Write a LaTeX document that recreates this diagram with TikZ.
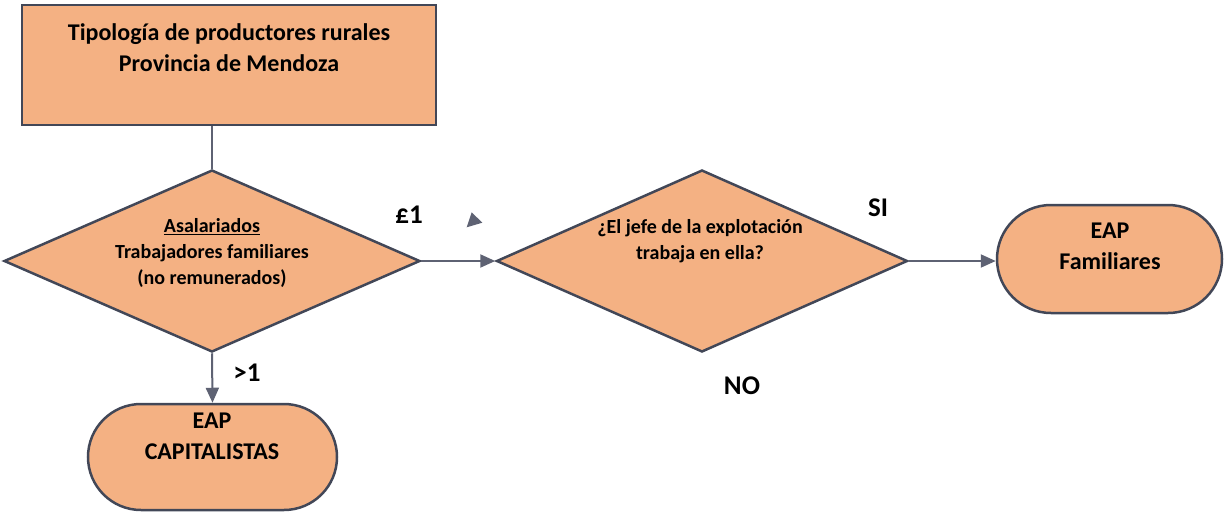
\documentclass[tikz,border=0pt]{standalone}
\usepackage{fontspec}
\setmainfont{Carlito}
\usetikzlibrary{shapes.geometric,shapes.misc,arrows.meta}

\definecolor{boxfill}{RGB}{244,177,131}
\definecolor{boxline}{RGB}{66,71,87}
\definecolor{flowline}{RGB}{94,98,115}

\begin{document}
\begin{tikzpicture}[x=1pt,y=-1pt,
		box/.style={draw=boxline,fill=boxfill,line width=2.5pt,inner sep=0pt},
		titlebox/.style={box,rectangle,minimum width=414pt,minimum height=120pt},
		decision/.style={box,diamond,minimum height=182pt},
		endbox/.style={box,rounded rectangle},
		boxtext/.style={align=center,inner sep=0pt,font=\bfseries\fontsize{24}{31}\selectfont},
		asktext/.style={align=center,inner sep=0pt,font=\bfseries\fontsize{20}{26}\selectfont},
		answer/.style={inner sep=0pt,font=\bfseries\fontsize{27}{30}\selectfont},
		flow/.style={draw=flowline,line width=2pt,-{Triangle[length=15pt,width=13pt]}}]
		
		\useasboundingbox (0,0) rectangle (1224,512);
		
		% Title
		\node[titlebox] (tipologia) at (229,65) {};
		\node[boxtext] (tipologiatext) at (229,48)
			{Tipología de productores rurales\\Provincia de Mendoza};
		
		% First question
		\node[decision,minimum width=416pt] (asalariados) at (212,261) {};
		\node[asktext] (asalariadostext) at (212,253)
			{\underline{Asalariados}\\Trabajadores familiares\\(no remunerados)};
		
		% Second question
		\node[decision,minimum width=411pt] (jefe) at (702,261) {};
		\node[asktext] (jefetext) at (700,241)
			{¿El jefe de la explotación\\trabaja en ella?};
		
		% Results
		\node[endbox,minimum width=225pt,minimum height=108pt] (familiares) at (1109.5,259) {};
		\node[boxtext] (familiarestext) at (1110,246) {EAP\\Familiares};
		
		\node[endbox,minimum width=249pt,minimum height=106pt] (capitalistas) at (212.5,457) {};
		\node[boxtext] (capitalistastext) at (212,436) {EAP\\CAPITALISTAS};
		
		% Connectors
		\draw[flowline,line width=2pt] (asalariados.north |- tipologia.south) -- (asalariados.north);
		\draw[flow] (asalariados.east) -- (jefe.west);
		\draw[flow] (jefe.east) -- (jefe.east -| familiares.west);
		\draw[flow] (asalariados.south) -- (capitalistas.north);
		
		%% Loose arrow tip
		\fill[flowline] (466.7,227.3) -- (471.7,212.3) -- (482.3,222.7) -- cycle;
		
		% Answers
		\node[answer] (menosuno) at (409,215) {£1};
		\node[answer] (si) at (878,208) {SI};
		\node[answer] (masuno) at (247,373) {>1};
		\node[answer] (no) at (742,386) {NO};
		
	\end{tikzpicture}
\end{document}
